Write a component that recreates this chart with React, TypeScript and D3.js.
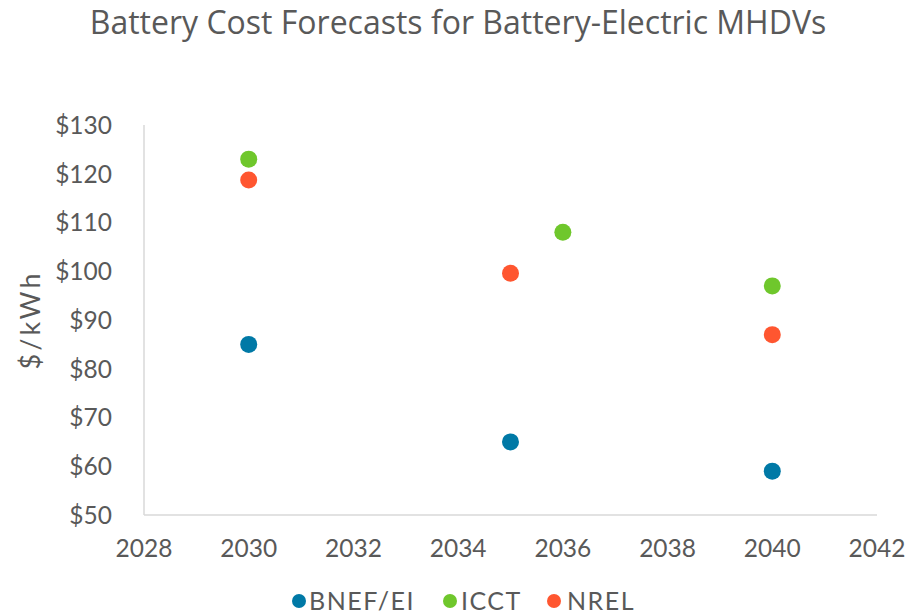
import React from "react";
import * as d3 from "d3";

// Battery pack cost forecasts ($/kWh) by source and year
const bnefYears = [2030, 2035, 2040];
const bnefValues = [85, 65, 59];
const icctYears = [2030, 2036, 2040];
const icctValues = [123, 108, 97];
const nrelYears = [2030, 2035, 2040];
const nrelValues = [118.7, 99.6, 87];

const seriesNames = ["BNEF/EI", "ICCT", "NREL"];
const seriesColors = ["#0079A6", "#6FC72C", "#FF5630"];

const xTicks = [2028, 2030, 2032, 2034, 2036, 2038, 2040, 2042];
const yTicks = [50, 60, 70, 80, 90, 100, 110, 120, 130];

const W = 911;
const H = 614;
const M = { left: 144, right: 34, top: 125, bottom: 99 };

const tickFont = "Lato, 'Open Sans', sans-serif";
const textColor = "#595959";

export default function App() {
  const x = d3.scaleLinear().domain([2028, 2042]).range([M.left, W - M.right]);
  const y = d3.scaleLinear().domain([50, 130]).range([H - M.bottom, M.top]);

  const series = [
    { name: seriesNames[0], color: seriesColors[0], xs: bnefYears, ys: bnefValues },
    { name: seriesNames[1], color: seriesColors[1], xs: icctYears, ys: icctValues },
    { name: seriesNames[2], color: seriesColors[2], xs: nrelYears, ys: nrelValues },
  ];

  const legendMarkerX = [299, 450, 554];
  const legendTextX = [309, 461, 567];

  return (
    <svg
      width={W}
      height={H}
      style={{ position: "absolute", left: 0, top: 0, background: "#fff" }}
    >
      <text
        x={458}
        y={34}
        textAnchor="middle"
        fontFamily="'Open Sans', sans-serif"
        fontSize={32}
        fill={textColor}
      >
        Battery Cost Forecasts for Battery-Electric MHDVs
      </text>

      {/* axes */}
      <line x1={x(2028)} x2={x(2028)} y1={y(130)} y2={y(50)} stroke="#D9D9D9" strokeWidth={1.5} />
      <line x1={x(2028)} x2={x(2042)} y1={y(50)} y2={y(50)} stroke="#D9D9D9" strokeWidth={1.5} />

      {yTicks.map((t) => (
        <text
          key={t}
          x={x(2028) - 32}
          y={y(t)}
          dy="0.36em"
          textAnchor="end"
          fontFamily={tickFont}
          fontSize={24.5}
          fill={textColor}
        >
          {`$${t}`}
        </text>
      ))}
      {xTicks.map((t) => (
        <text
          key={t}
          x={x(t)}
          y={y(50) + 42}
          textAnchor="middle"
          fontFamily={tickFont}
          fontSize={24.5}
          fill={textColor}
        >
          {t}
        </text>
      ))}

      <text
        transform={`translate(40,${(y(50) + y(130)) / 2}) rotate(-90)`}
        textAnchor="middle"
        fontFamily={tickFont}
        fontSize={27}
        letterSpacing={3}
        fill={textColor}
      >
        $/kWh
      </text>

      {series.map((s) =>
        s.xs.map((yr, i) => (
          <circle key={s.name + yr} cx={x(yr)} cy={y(s.ys[i])} r={8.5} fill={s.color} />
        ))
      )}

      {series.map((s, i) => (
        <g key={s.name}>
          <circle cx={legendMarkerX[i]} cy={601} r={7} fill={s.color} />
          <text
            x={legendTextX[i]}
            y={601}
            dy="0.36em"
            fontFamily={tickFont}
            fontSize={25}
            letterSpacing={1.5}
            fill={textColor}
          >
            {s.name}
          </text>
        </g>
      ))}
    </svg>
  );
}
